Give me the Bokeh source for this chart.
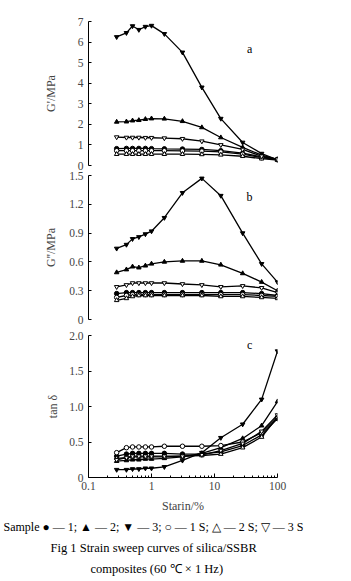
from bokeh.plotting import figure
from bokeh.layouts import column
from bokeh.models import Range1d, FixedTicker, CustomJSTickFormatter, Title
from bokeh.core.properties import value
from bokeh.embed import file_html
from bokeh.resources import INLINE

FONT = "Liberation Serif"

strain = [0.28, 0.4, 0.5, 0.63, 0.8, 1.0, 1.6, 3.1, 6.3, 12.6, 28, 56, 100]

# G' (MPa)
g1_s1 = [0.82, 0.83, 0.83, 0.83, 0.83, 0.82, 0.81, 0.8, 0.78, 0.72, 0.6, 0.42, 0.3]
g1_s2 = [2.12, 2.13, 2.18, 2.2, 2.25, 2.28, 2.27, 2.15, 1.85, 1.36, 0.88, 0.5, 0.3]
g1_s3 = [6.25, 6.45, 6.78, 6.6, 6.75, 6.8, 6.4, 5.5, 3.8, 2.28, 1.12, 0.58, 0.28]
g1_s1S = [0.72, 0.72, 0.72, 0.72, 0.72, 0.72, 0.72, 0.71, 0.7, 0.66, 0.55, 0.38, 0.28]
g1_s2S = [0.55, 0.55, 0.55, 0.55, 0.55, 0.55, 0.55, 0.55, 0.54, 0.52, 0.45, 0.33, 0.26]
g1_s3S = [1.38, 1.36, 1.36, 1.36, 1.35, 1.35, 1.33, 1.3, 1.18, 1.0, 0.78, 0.45, 0.3]

# G'' (MPa)
g2_s1 = [0.27, 0.28, 0.28, 0.28, 0.28, 0.28, 0.28, 0.28, 0.28, 0.28, 0.28, 0.27, 0.25]
g2_s2 = [0.49, 0.52, 0.55, 0.54, 0.56, 0.58, 0.6, 0.61, 0.61, 0.57, 0.48, 0.39, 0.3]
g2_s3 = [0.74, 0.78, 0.84, 0.86, 0.89, 0.92, 1.06, 1.32, 1.47, 1.29, 0.9, 0.58, 0.39]
g2_s1S = [0.23, 0.25, 0.26, 0.26, 0.26, 0.26, 0.26, 0.26, 0.26, 0.26, 0.26, 0.25, 0.24]
g2_s2S = [0.2, 0.22, 0.24, 0.25, 0.25, 0.25, 0.25, 0.25, 0.25, 0.24, 0.24, 0.23, 0.22]
g2_s3S = [0.34, 0.36, 0.38, 0.38, 0.38, 0.38, 0.38, 0.37, 0.36, 0.34, 0.35, 0.33, 0.28]

# tan delta
td_s1 = [0.3, 0.33, 0.34, 0.34, 0.34, 0.34, 0.34, 0.33, 0.33, 0.36, 0.45, 0.6, 0.83]
td_s2 = [0.23, 0.24, 0.25, 0.25, 0.26, 0.26, 0.27, 0.29, 0.34, 0.42, 0.55, 0.73, 1.07]
td_s3 = [0.11, 0.11, 0.12, 0.12, 0.13, 0.13, 0.15, 0.24, 0.35, 0.56, 0.75, 1.1, 1.78]
td_s1S = [0.35, 0.42, 0.43, 0.43, 0.43, 0.43, 0.44, 0.44, 0.44, 0.45, 0.5, 0.63, 0.85]
td_s2S = [0.27, 0.28, 0.29, 0.29, 0.29, 0.29, 0.29, 0.3, 0.31, 0.33, 0.42, 0.57, 0.85]
td_s3S = [0.25, 0.28, 0.3, 0.3, 0.3, 0.3, 0.3, 0.3, 0.32, 0.38, 0.48, 0.65, 0.88]

x_ticks = [0.1, 1, 10, 100]
x_minor = [0.2, 0.3, 0.4, 0.5, 0.6, 0.7, 0.8, 0.9, 2, 3, 4, 5, 6, 7, 8, 9,
           20, 30, 40, 50, 60, 70, 80, 90]
a_ticks = [0, 1, 2, 3, 4, 5, 6, 7]
b_ticks = [0, 0.3, 0.6, 0.9, 1.2, 1.5]
c_ticks = [0, 0.5, 1.0, 1.5, 2.0]

caption_lines = [
    "Sample ● — 1; ▲ — 2; ▼ — 3; ○ — 1 S; △ — 2 S; ▽ — 3 S",
    "Fig 1    Strain sweep curves of silica/SSBR",
    "composites (60 ℃ × 1 Hz)",
]

styles = [
    ("circle", "black"),
    ("triangle", "black"),
    ("inverted_triangle", "black"),
    ("circle", "white"),
    ("triangle", "white"),
    ("inverted_triangle", "white"),
]


def make_panel(height, top, bottom, ymax, yticks, ylabel, label_standoff, series,
               letter, letter_y, yfmt, xaxis=False):
    p = figure(width=351, height=height, output_backend="svg", toolbar_location=None,
               x_axis_type="log", x_range=Range1d(0.1, 100), y_range=Range1d(0, ymax),
               x_axis_location="below" if xaxis else None,
               min_border_left=88, min_border_right=74, min_border_top=top,
               min_border_bottom=bottom)
    p.outline_line_color = None
    p.grid.visible = False
    p.background_fill_color = "white"
    ax = p.yaxis[0]
    ax.ticker = FixedTicker(ticks=yticks)
    ax.formatter = CustomJSTickFormatter(code=yfmt)
    ax.major_tick_in = 3
    ax.major_tick_out = 0
    ax.minor_tick_in = 0
    ax.minor_tick_out = 0
    ax.axis_label = ylabel
    ax.axis_label_standoff = label_standoff
    ax.axis_label_text_font = FONT
    ax.axis_label_text_font_size = "12px"
    ax.axis_label_text_font_style = "normal"
    ax.major_label_text_font = FONT
    ax.major_label_text_font_size = "11.5px"
    ax.major_label_standoff = 5
    ax.axis_line_color = "black"
    if xaxis:
        xa = p.xaxis[0]
        xa.ticker = FixedTicker(ticks=x_ticks, minor_ticks=x_minor)
        xa.formatter = CustomJSTickFormatter(code="return tick.toString();")
        xa.major_tick_in = 4
        xa.major_tick_out = 0
        xa.minor_tick_in = 2
        xa.minor_tick_out = 0
        xa.axis_label = "Starin/%"
        xa.axis_label_standoff = 6
        xa.axis_label_text_font = FONT
        xa.axis_label_text_font_size = "12px"
        xa.axis_label_text_font_style = "normal"
        xa.major_label_text_font = FONT
        xa.major_label_text_font_size = "11.5px"
        xa.major_label_standoff = 4
    for (marker, fill), ys in zip(styles, series):
        p.line(strain, ys, line_color="black", line_width=1.3)
        p.scatter(strain, ys, marker=marker, size=4.5, line_color="black",
                  fill_color=fill, line_width=1)
    p.text(x=[36], y=[letter_y], text=[letter], text_font=value(FONT),
           text_font_size="12px", text_align="center", text_baseline="middle",
           text_color="black")
    return p


num_fmt = "return tick == 0 ? '0' : tick.toString();"
fix_fmt = "return tick == 0 ? '0' : tick.toFixed(1);"

pa = make_panel(170, 21, 5, 7, a_ticks, "G'/MPa", 17,
                [g1_s1, g1_s2, g1_s3, g1_s1S, g1_s2S, g1_s3S], "a", 5.64, num_fmt)
pb = make_panel(154, 5, 5, 1.5, b_ticks, "G''/MPa", 8,
                [g2_s1, g2_s2, g2_s3, g2_s1S, g2_s2S, g2_s3S], "b", 1.28, num_fmt)
pc = make_panel(257, 11, 104, 2.0, c_ticks, "tan δ", 6,
                [td_s1, td_s2, td_s3, td_s1S, td_s2S, td_s3S], "c", 1.86, fix_fmt,
                xaxis=True)

# caption lines as titles below the bottom panel (offset relative to frame left = 88)
for txt, xx, fs in zip(caption_lines, [3, 50, 90], ["12px", "12.5px", "12.5px"]):
    pc.add_layout(Title(text=txt, align="left", offset=xx - 88, text_font=FONT,
                        text_font_size=fs, text_font_style="normal",
                        text_color="black", standoff=5), "below")

layout = column(pa, pb, pc, spacing=0)
open("out.html", "w").write(file_html(layout, INLINE))
